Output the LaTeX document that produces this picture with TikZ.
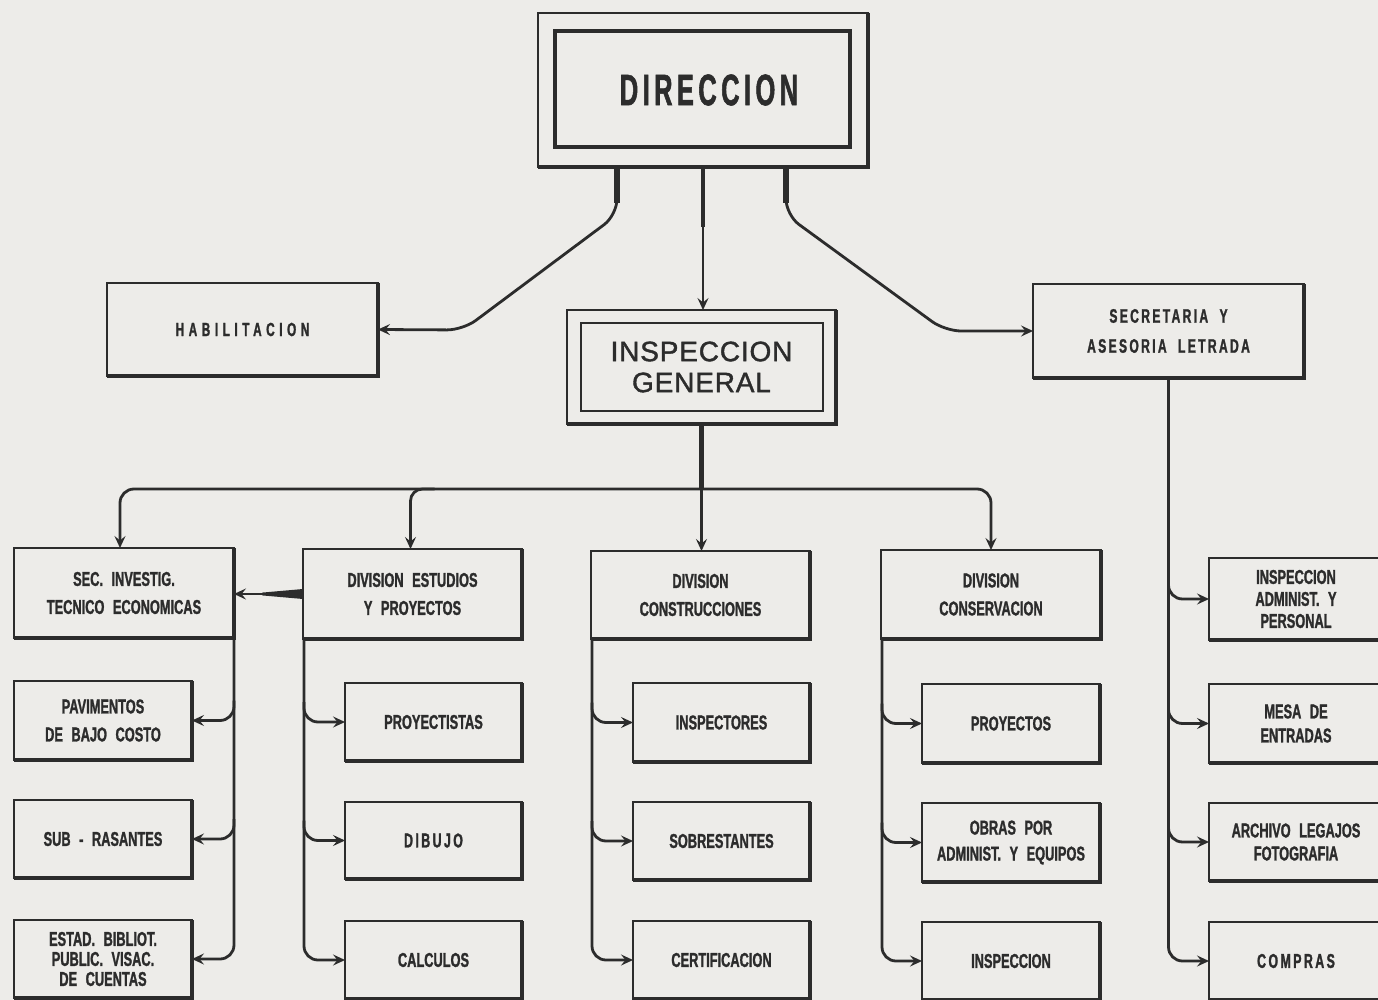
\documentclass[tikz,border=0pt]{standalone}
\usepackage{fontspec}
\setmainfont{Liberation Sans}
\newfontfamily\condf[FakeStretch=0.64,WordSpace=2.4,FakeBold=1.3]{Liberation Sans}
\newfontfamily\condsp[FakeStretch=0.62,LetterSpace=12,WordSpace=2,FakeBold=1.3]{Liberation Sans}
\newfontfamily\condwide[FakeStretch=0.62,LetterSpace=24,WordSpace=2,FakeBold=1.3]{Liberation Sans}
\newfontfamily\dirf[FakeStretch=0.58,LetterSpace=10,FakeBold=1.2]{Liberation Sans}
\newfontfamily\igf[LetterSpace=3,FakeBold=1.4]{Liberation Sans}
\usetikzlibrary{arrows.meta,calc}
\definecolor{paper}{RGB}{237,236,233}
\definecolor{ink}{RGB}{44,44,44}
\tikzset{
  box/.style={draw=ink, line width=1.8pt, inner sep=0pt, outer sep=0pt, text=ink, align=center,
    font=\condf\bfseries\fontsize{20}{28}\selectfont},
  shadowline/.style={draw=ink, line width=4.2pt},
  conn/.style={draw=ink, line width=2.8pt},
  tip/.style={-{Stealth[length=12pt,width=11pt,inset=4.5pt]}},
  stub/.style={draw=ink, line width=5.5pt},
}
\newcommand\orgbox[7][]{%
  \node[box,#1,minimum width={#5-#3},minimum height={#6-#4}] (#2) at ({(#3+#5)/2},{(#4+#6)/2}) {#7};
  \draw[shadowline] (#2.north east) -- (#2.south east) -- (#2.south west);
}
\begin{document}
\begin{tikzpicture}[x=1pt,y=-1pt]
\useasboundingbox (0,0) rectangle (1378,1000);
\clip (0,0) rectangle (1378,1000);
\fill[paper] (0,0) rectangle (1378,1000);

% top level
\orgbox[font=\dirf\bfseries\fontsize{44}{48}\selectfont]{dir}{538}{13}{868}{167}{\hspace*{12pt}DIRECCION}
\draw[ink,line width=3.2pt] ($(dir.north west)+(17,18)$) rectangle ($(dir.south east)+(-18,-20)$);

\orgbox[font=\igf\fontsize{28}{31}\selectfont]{ig}{567}{310}{836}{424}{INSPECCION\\GENERAL}
\draw[ink,line width=2.8pt] ($(ig.north west)+(14,13)$) rectangle ($(ig.south east)+(-13,-13)$);

\orgbox[font=\condwide\bfseries\fontsize{19}{27}\selectfont]{hab}{107}{283}{378}{376}{HABILITACION}
\orgbox[font=\condsp\bfseries\fontsize{19.5}{30}\selectfont]{sya}{1033}{284}{1304}{378}{SECRETARIA Y\\ASESORIA LETRADA}

% divisions
\orgbox{sit}{14}{548}{234}{638}{SEC. INVESTIG.\\TECNICO ECONOMICAS}
\orgbox{des}{303}{549}{522}{639}{DIVISION ESTUDIOS\\Y PROYECTOS}
\orgbox{dc}{591}{551}{810}{639}{DIVISION\\CONSTRUCCIONES}
\orgbox{dcv}{881}{550}{1101}{639}{DIVISION\\CONSERVACION}

% sub boxes
\orgbox{pav}{14}{681}{192}{760}{PAVIMENTOS\\DE BAJO COSTO}
\orgbox{sub}{14}{800}{192}{878}{SUB - RASANTES}
\orgbox[font=\condf\bfseries\fontsize{20}{20}\selectfont]{est}{14}{920}{192}{998}{ESTAD. BIBLIOT.\\PUBLIC. VISAC.\\DE CUENTAS}
\orgbox{pro}{345}{683}{522}{761}{PROYECTISTAS}
\orgbox[font=\condsp\bfseries\fontsize{20}{28}\selectfont]{dib}{345}{802}{522}{879}{DIBUJO}
\orgbox{cal}{345}{921}{522}{999}{CALCULOS}
\orgbox{ins}{633}{683}{810}{762}{INSPECTORES}
\orgbox{sob}{633}{802}{810}{880}{SOBRESTANTES}
\orgbox{cer}{633}{921}{810}{999}{CERTIFICACION}
\orgbox{pry}{922}{684}{1100}{763}{PROYECTOS}
\orgbox[font=\condf\bfseries\fontsize{20}{26}\selectfont]{obr}{922}{803}{1100}{882}{OBRAS POR\\ADMINIST. Y EQUIPOS}
\orgbox{insp}{922}{922}{1100}{1000}{INSPECCION}
\orgbox[font=\condf\bfseries\fontsize{20}{22}\selectfont]{iap}{1209}{558}{1383}{640}{INSPECCION\\ADMINIST. Y\\PERSONAL}
\orgbox[font=\condf\bfseries\fontsize{20}{24}\selectfont]{mes}{1209}{684}{1383}{763}{MESA DE\\ENTRADAS}
\orgbox[font=\condf\bfseries\fontsize{20}{23}\selectfont]{arc}{1209}{803}{1383}{881}{ARCHIVO LEGAJOS\\FOTOGRAFIA}
\orgbox[font=\condsp\bfseries\fontsize{20}{28}\selectfont]{com}{1209}{922}{1383}{1000}{COMPRAS}

% top connectors
\draw[conn,tip,rounded corners=16pt] ($(dir.south)+(-86,0)$) coordinate (dl) -- ++(0,48) -- (463,330) -- (hab.east);
\draw[stub] (dl) -- ++(0,36);
\draw[conn,tip,rounded corners=16pt] ($(dir.south)+(83,0)$) coordinate (dr) -- ++(0,48) -- (945,331) -- (sya.west);
\draw[stub] (dr) -- ++(0,36);
\draw[conn,tip] (dir.south) -- (dir.south |- ig.north);
\draw[ink,line width=3.8pt] (dir.south) -- ++(0,60);

% bus from inspeccion general
\coordinate (bus) at ($(ig.south)+(0,65)$);
\draw[stub] (ig.south) -- (bus);
\draw[conn,tip] (ig.south) -- (ig.south |- dc.north);
\draw[conn,tip,rounded corners=14pt] (bus) -| ($(sit.north)+(-4,0)$);
\draw[conn,tip,rounded corners=14pt] (bus) -| (dcv.north);
\draw[conn,tip,rounded corners=12pt] ($(bus -| des.north)+(22,0)$) -- ($(bus -| des.north)+(-2,0)$) -- ($(des.north)+(-2,0)$);

% division estudios -> sec investig
\fill[ink] ($(des.west)+(0,-5)$) -- ($(des.west)+(0,5)$) -- ($(des.west -| sit.east)+(28,1.4)$) -- ($(des.west -| sit.east)+(28,-1.4)$) -- cycle;
\draw[conn,tip] (des.west) -- (des.west -| sit.east);

% column spines
\draw[conn,tip,rounded corners=14pt] (sit.south east) -- (sit.east |- est.east) -- (est.east);
\foreach \b in {pav,sub}
  \draw[conn,tip,rounded corners=14pt] ($(sit.east |- \b.east)+(0,-20)$) -- (sit.east |- \b.east) -- (\b.east);

\draw[conn,tip,rounded corners=14pt] ($(des.south west)+(1,0)$) -- ($(des.west |- cal.west)+(1,0)$) -- (cal.west);
\foreach \b in {pro,dib}
  \draw[conn,tip,rounded corners=14pt] ($(des.west |- \b.west)+(1,-20)$) -- ($(des.west |- \b.west)+(1,0)$) -- (\b.west);

\draw[conn,tip,rounded corners=14pt] ($(dc.south west)+(1,0)$) -- ($(dc.west |- cer.west)+(1,0)$) -- (cer.west);
\foreach \b in {ins,sob}
  \draw[conn,tip,rounded corners=14pt] ($(dc.west |- \b.west)+(1,-20)$) -- ($(dc.west |- \b.west)+(1,0)$) -- (\b.west);

\draw[conn,tip,rounded corners=14pt] ($(dcv.south west)+(1,0)$) -- ($(dcv.west |- insp.west)+(1,0)$) -- (insp.west);
\foreach \b in {pry,obr}
  \draw[conn,tip,rounded corners=14pt] ($(dcv.west |- \b.west)+(1,-20)$) -- ($(dcv.west |- \b.west)+(1,0)$) -- (\b.west);

\draw[conn,tip,rounded corners=14pt] (sya.south) -- (sya.south |- com.west) -- (com.west);
\foreach \b in {iap,mes,arc}
  \draw[conn,tip,rounded corners=14pt] ($(sya.south |- \b.west)+(0,-20)$) -- (sya.south |- \b.west) -- (\b.west);
\end{tikzpicture}
\end{document}
